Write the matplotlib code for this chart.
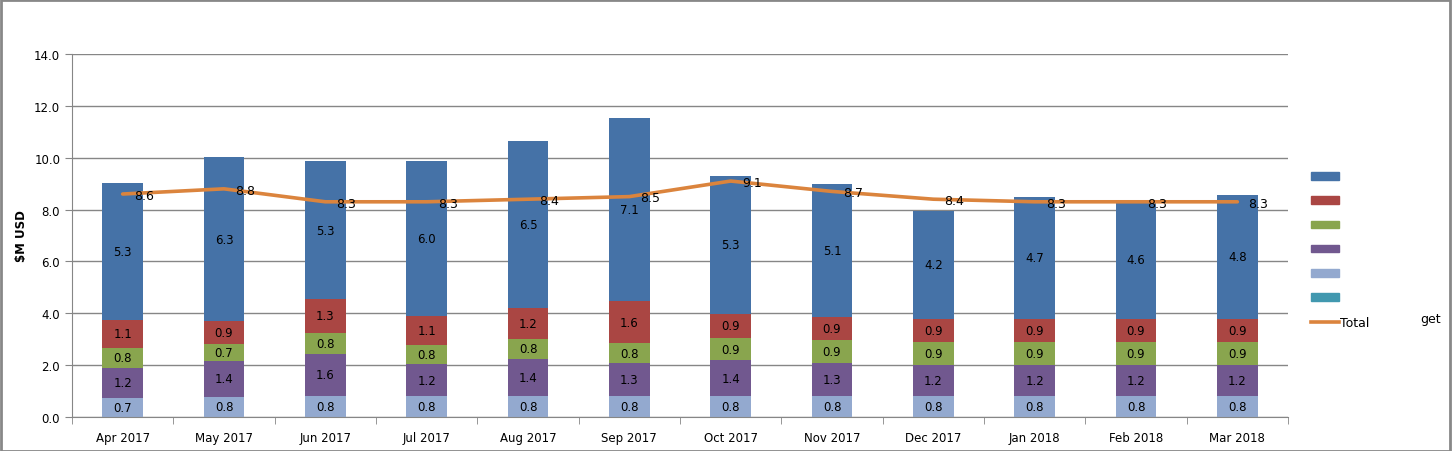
import numpy as np
import matplotlib.pyplot as plt
from matplotlib.patches import Patch, Rectangle
from matplotlib.lines import Line2D

# month labels
months = ['Apr 2017', 'May 2017', 'Jun 2017', 'Jul 2017', 'Aug 2017', 'Sep 2017',
          'Oct 2017', 'Nov 2017', 'Dec 2017', 'Jan 2018', 'Feb 2018', 'Mar 2018']

# stacked series, bottom to top
teal = [0.0, -0.03, 0.0, 0.0, 0.0, 0.0, 0.0, 0.0, 0.0, 0.0, 0.0, 0.0]
lightblue = [0.74, 0.78, 0.82, 0.82, 0.82, 0.82, 0.82, 0.82, 0.81, 0.81, 0.81, 0.81]
purple = [1.16, 1.38, 1.61, 1.21, 1.42, 1.26, 1.36, 1.26, 1.18, 1.18, 1.18, 1.18]
green = [0.77, 0.66, 0.82, 0.76, 0.77, 0.76, 0.88, 0.89, 0.90, 0.90, 0.90, 0.90]
red = [1.08, 0.88, 1.30, 1.11, 1.19, 1.63, 0.92, 0.90, 0.90, 0.90, 0.90, 0.90]
blue = [5.28, 6.33, 5.32, 5.96, 6.46, 7.06, 5.32, 5.12, 4.16, 4.69, 4.58, 4.77]

# total target line
total = [8.6, 8.8, 8.3, 8.3, 8.4, 8.5, 9.1, 8.7, 8.4, 8.3, 8.3, 8.3]

c_blue = '#4572A7'
c_red = '#AA4643'
c_green = '#89A54E'
c_purple = '#71588F'
c_lblue = '#93A9CF'
c_teal = '#4198AF'
c_orange = '#DB843D'

fig = plt.figure(figsize=(14.52, 4.52), dpi=100)
ax = fig.add_axes([72 / 1452, 1 - 418 / 452, 1216 / 1452, 363 / 452])

x = np.arange(len(months))
w = 0.4

ax.bar(x, teal, w, color=c_teal, zorder=2)
bottom = np.zeros(len(months))
for vals, col in [(lightblue, c_lblue), (purple, c_purple), (green, c_green),
                  (red, c_red), (blue, c_blue)]:
    v = np.array(vals)
    ax.bar(x, v, w, bottom=bottom, color=col, zorder=2)
    for xi, b, h in zip(x, bottom, v):
        ax.text(xi, b + h / 2, f'{h:.1f}', ha='center', va='center',
                fontsize=8.5, color='black', zorder=4)
    bottom = bottom + v

ax.plot(x, total, color=c_orange, lw=2.6, zorder=3, solid_capstyle='round')
for xi, t in zip(x, total):
    ax.annotate(f'{t:.1f}', (xi, t), xytext=(8, -1), textcoords='offset points',
                ha='left', va='center', fontsize=9, zorder=5)

ax.set_xlim(-0.5, len(months) - 0.5)
ax.set_ylim(0, 14)
ax.set_yticks(np.arange(0, 14.1, 2))
ax.set_yticklabels([f'{v:.1f}' for v in np.arange(0, 14.1, 2)], fontsize=8.5)
ax.set_xticks(x)
ax.set_xticklabels(months, fontsize=8.5)
ax.set_xticks(np.arange(-0.5, len(months), 1), minor=True)
ax.tick_params(axis='x', which='major', length=0, pad=10)
ax.tick_params(axis='x', which='minor', length=5, color='#868686', direction='out')
ax.tick_params(axis='y', length=5, color='#868686', direction='out')
ax.grid(axis='y', color='#868686', lw=1, zorder=0)
ax.set_axisbelow(True)
for s in ['top', 'right']:
    ax.spines[s].set_visible(False)
for s in ['left', 'bottom']:
    ax.spines[s].set_color('#868686')

ax.set_ylabel('$M USD', fontsize=8.5, fontweight='bold')
ax.yaxis.set_label_coords(-0.036, 0.5)

handles = [Patch(color=c) for c in [c_blue, c_red, c_green, c_purple, c_lblue, c_teal]]
handles.append(Line2D([0], [0], color=c_orange, lw=2.6))
labels = [''] * 6 + ['Total']
fig.legend(handles, labels, loc='upper left', bbox_to_anchor=(1300 / 1452, 1 - 160 / 452),
           frameon=False, fontsize=9, handlelength=2.2, handleheight=0.55,
           labelspacing=0.9, handletextpad=0.1)
fig.text(1420 / 1452, 1 - 319 / 452, 'get', fontsize=9, ha='left', va='center')

fig.add_artist(Rectangle((0.0005, 0.001), 0.998, 0.997, transform=fig.transFigure,
                         fill=False, edgecolor='#888888', lw=2))

fig.savefig('out.png', dpi=100)
